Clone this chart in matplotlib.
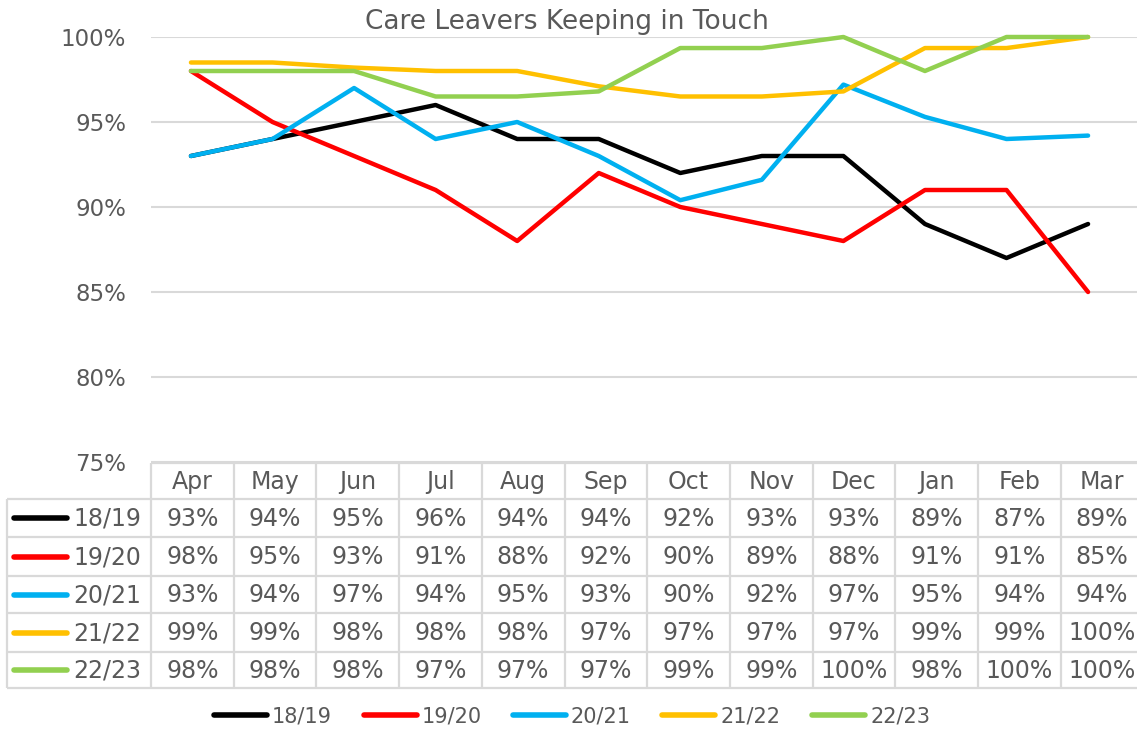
import numpy as np
import matplotlib
matplotlib.use("Agg")
import matplotlib.pyplot as plt

months = ["Apr", "May", "Jun", "Jul", "Aug", "Sep", "Oct", "Nov", "Dec", "Jan", "Feb", "Mar"]
series_names = ["18/19", "19/20", "20/21", "21/22", "22/23"]
s1819 = [93, 94, 95, 96, 94, 94, 92, 93, 93, 89, 87, 89]
s1920 = [98, 95, 93, 91, 88, 92, 90, 89, 88, 91, 91, 85]
s2021 = [93, 94, 97, 94, 95, 93, 90.4, 91.6, 97.2, 95.3, 94.0, 94.2]
s2122 = [98.5, 98.5, 98.2, 98.0, 98.0, 97.1, 96.5, 96.5, 96.8, 99.35, 99.35, 100]
s2223 = [98, 98, 98, 96.5, 96.5, 96.8, 99.35, 99.35, 100, 98, 100, 100]
series = [s1819, s1920, s2021, s2122, s2223]
colors = ["#000000", "#FF0000", "#00B0F0", "#FFC000", "#92D050"]
yticks = [75, 80, 85, 90, 95, 100]

W, H = 1137, 729
TXT = "#595959"
GRID = "#D9D9D9"
plt.rcParams['font.family'] = ['DejaVu Sans']

fig = plt.figure(figsize=(W / 100, H / 100), dpi=100)

def fx(px):
    return px / W

def fy(py):
    return 1 - py / H

# main chart axes (pixels: left 151, top 37, bottom 462, right 1137)
ax = fig.add_axes([fx(151), fy(462), fx(W - 151), fy(37) - fy(462)])
x = np.arange(len(months))
for vals, c, n in zip(series, colors, series_names):
    ax.plot(x, vals, color=c, lw=3.2, solid_capstyle='round', solid_joinstyle='round', label=n, clip_on=False, zorder=3)
ax.set_ylim(75, 100)
ax.set_xlim(-0.49, 11.6)
ax.set_yticks(yticks)
ax.set_yticklabels([f"{t}%" for t in yticks], fontsize=16.5, color=TXT)
ax.tick_params(axis='y', length=0, pad=18)
ax.set_xticks([])
ax.grid(axis='y', color=GRID, lw=1.5)
ax.set_axisbelow(True)
for sp in ax.spines.values():
    sp.set_visible(False)

fig.text(fx(567), fy(22), "Care Leavers Keeping in Touch", ha='center', va='center', fontsize=19, color=TXT)

# table overlay axes in pixel coordinates
tax = fig.add_axes([0, 0, 1, 1])
tax.set_xlim(0, W)
tax.set_ylim(H, 0)
tax.axis('off')

col_left = 151
col_w = 82.7
row_tops = [463, 499, 537, 576, 613, 652, 688]
tbl_right = col_left + col_w * 12
lc = dict(color=GRID, lw=1.6, solid_capstyle='butt')

# horizontal lines
tax.plot([col_left, tbl_right], [row_tops[0]] * 2, **lc)
for yy in row_tops[1:]:
    tax.plot([7, tbl_right], [yy, yy], **lc)
# vertical lines
tax.plot([7, 7], [row_tops[1], row_tops[-1]], **lc)
for i in range(13):
    xx = col_left + i * col_w
    tax.plot([xx, xx], [row_tops[0], row_tops[-1]], **lc)

# header
for i, m in enumerate(months):
    tax.text(col_left + (i + 0.5) * col_w, (row_tops[0] + row_tops[1]) / 2 + 1, m,
             ha='center', va='center', fontsize=17, color=TXT)

# rows
for r, (vals, c, n) in enumerate(zip(series, colors, series_names)):
    yc = (row_tops[r + 1] + row_tops[r + 2]) / 2 + 1
    tax.plot([14, 67], [yc - 1, yc - 1], color=c, lw=4, solid_capstyle='round')
    tax.text(73, yc, n, ha='left', va='center', fontsize=17, color=TXT)
    for i, v in enumerate(vals):
        tax.text(col_left + (i + 0.5) * col_w, yc, f"{int(np.floor(v + 0.5))}%",
                 ha='center', va='center', fontsize=17, color=TXT)

# bottom legend
leg_x = [212, 362, 511, 660, 810]
for lx, c, n in zip(leg_x, colors, series_names):
    tax.plot([lx + 2, lx + 55], [715, 715], color=c, lw=4, solid_capstyle='round')
    tax.text(lx + 60, 716, n, ha='left', va='center', fontsize=15, color=TXT)

fig.savefig("out.png", dpi=100)
